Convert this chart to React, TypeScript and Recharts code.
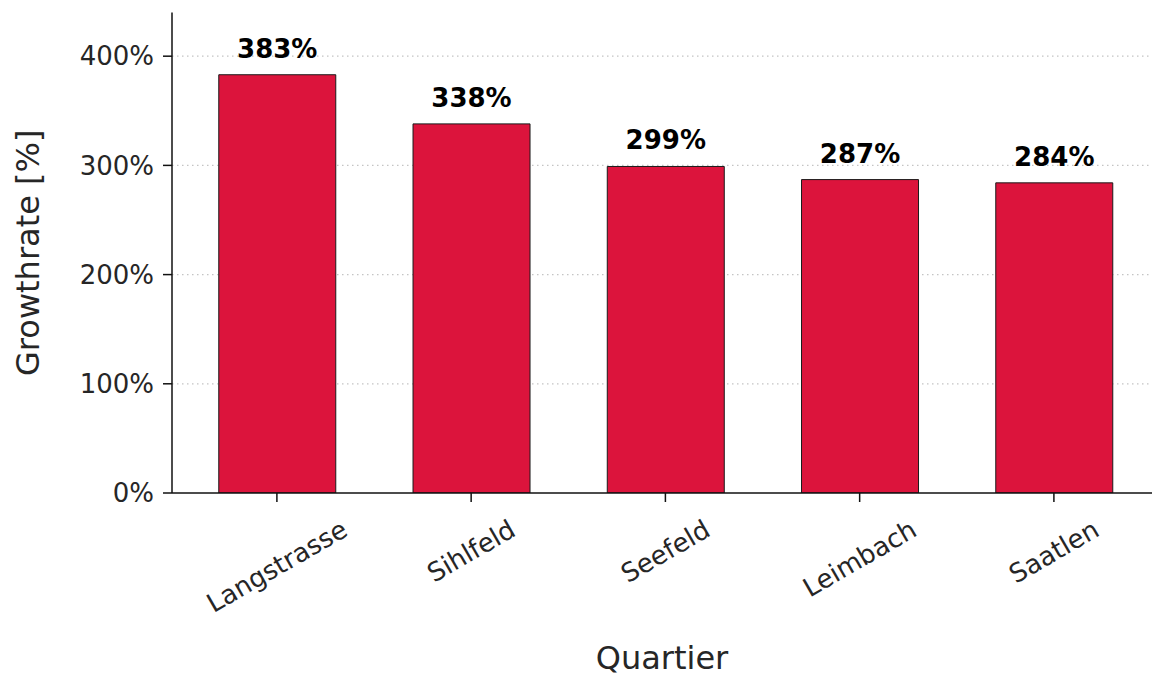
import { BarChart, Bar, XAxis, YAxis, CartesianGrid, LabelList } from "recharts";

const quartiers = ["Langstrasse", "Sihlfeld", "Seefeld", "Leimbach", "Saatlen"];
const growth = [383, 338, 299, 287, 284];
const yTicks = [0, 100, 200, 300, 400];
const gridValues = [100, 200, 300, 400];

const data = quartiers.map((name, i) => ({ idx: i, name, value: growth[i] }));

const FONT = '"DejaVu Sans", sans-serif';
const TEXT = "#262626";

let ctx: CanvasRenderingContext2D | null = null;
function textWidth(s: string) {
  if (!ctx) {
    ctx = document.createElement("canvas").getContext("2d");
    if (ctx) ctx.font = '26px "DejaVu Sans"';
  }
  return ctx ? ctx.measureText(s).width : s.length * 15;
}

// rotated category label, centred under its tick like matplotlib's rotation=30
function XTick(props: any) {
  const { x, y, payload } = props;
  const name = quartiers[payload.value] ?? "";
  const cy = y + 25 + textWidth(name) * 0.25;
  return (
    <text
      x={x}
      y={cy}
      textAnchor="middle"
      dominantBaseline="central"
      transform={`rotate(-30, ${x}, ${cy})`}
      fontSize={26}
      fontFamily={FONT}
      fill={TEXT}
    >
      {name}
    </text>
  );
}

export default function App() {
  return (
    <div style={{ position: "absolute", left: 0, top: 0 }}>
      <BarChart width={1152} height={677} data={data} margin={{ top: 12.5, right: 0, bottom: 0, left: 0 }}>
        <CartesianGrid
          vertical={false}
          horizontalValues={gridValues}
          stroke="#c4c4c4"
          strokeDasharray="1.5 3.5"
          strokeWidth={1.3}
        />
        <XAxis
          type="number"
          dataKey="idx"
          domain={[-0.54, 4.505]}
          allowDataOverflow
          ticks={[0, 1, 2, 3, 4]}
          interval={0}
          height={184}
          tickSize={9}
          tickMargin={0}
          tick={<XTick />}
          axisLine={{ stroke: "#111", strokeWidth: 1.5 }}
          tickLine={{ stroke: "#111", strokeWidth: 1.5 }}
          label={{
            content: ({ viewBox }: any) => (
              <text
                x={viewBox.x + viewBox.width / 2}
                y={669}
                textAnchor="middle"
                fontSize={32}
                fontFamily={FONT}
                fill={TEXT}
              >
                Quartier
              </text>
            ),
          }}
        />
        <YAxis
          type="number"
          domain={[0, 440]}
          allowDataOverflow
          ticks={yTicks}
          width={172}
          tickSize={9}
          tickMargin={9}
          tickFormatter={(v: number) => `${v}%`}
          tick={{ fontSize: 26, fontFamily: FONT, fill: TEXT }}
          axisLine={{ stroke: "#111", strokeWidth: 1.5 }}
          tickLine={{ stroke: "#111", strokeWidth: 1.5 }}
          label={{
            content: ({ viewBox }: any) => {
              const cy = viewBox.y + viewBox.height / 2;
              return (
                <text
                  x={28}
                  y={cy}
                  textAnchor="middle"
                  dominantBaseline="central"
                  transform={`rotate(-90, 28, ${cy})`}
                  fontSize={32}
                  fontFamily={FONT}
                  fill={TEXT}
                >
                  Growthrate [%]
                </text>
              );
            },
          }}
        />
        <Bar dataKey="value" fill="#DC143C" stroke="#1a1a1a" strokeWidth={1} barSize={117} isAnimationActive={false}>
          <LabelList
            dataKey="value"
            position="top"
            offset={17}
            formatter={(v: any) => `${v}%`}
            fill="#000"
            fontSize={26}
            fontWeight="bold"
            fontFamily={FONT}
          />
        </Bar>
      </BarChart>
    </div>
  );
}
